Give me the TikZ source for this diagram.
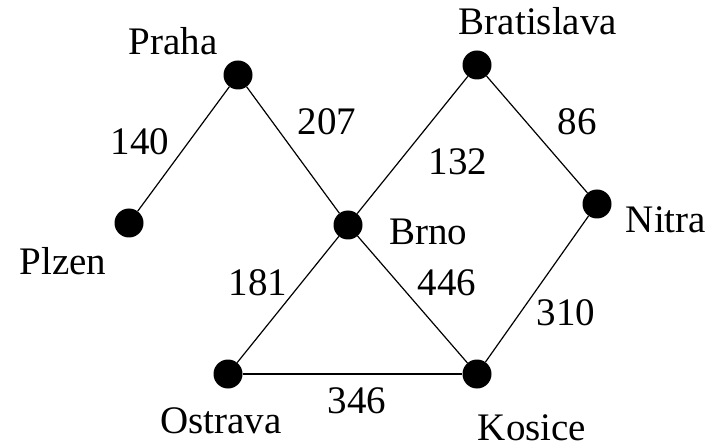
\documentclass[tikz,border=0pt]{standalone}
\usepackage{fontspec}
\setmainfont{Liberation Serif}
\begin{document}
\begin{tikzpicture}[x=1pt,y=-1pt,
  dot/.style={circle,fill=black,inner sep=0pt,minimum size=29pt},
  lbl/.style={anchor=base,inner sep=0pt,font=\fontsize{39}{39}\selectfont},
  edge/.style={line width=1.2pt}]
\useasboundingbox (0,0) rectangle (717,446);
\node[dot] (praha) at (238,75) {};
\node[dot] (brat) at (477,65) {};
\node[dot] (plzen) at (129,223) {};
\node[dot] (brno) at (348,225) {};
\node[dot] (nitra) at (597,204) {};
\node[dot] (ostrava) at (228,374) {};
\node[dot] (kosice) at (477,374) {};
\draw[edge] (praha) -- (plzen);
\draw[edge] (praha) -- (brno);
\draw[edge] (brat) -- (brno);
\draw[edge] (brat) -- (nitra);
\draw[edge] (brno) -- (ostrava);
\draw[edge] (brno) -- (kosice);
\draw[edge] (nitra) -- (kosice);
\draw[edge] (ostrava) -- (kosice);
\node[lbl] (tpraha) at (173,55) {Praha};
\node[lbl] (tbrat) at (538,35) {Bratislava};
\node[lbl] (tplzen) at (63,275) {Plzen};
\node[lbl] (tbrno) at (428,245) {Brno};
\node[lbl] (tnitra) at (666,233) {Nitra};
\node[lbl] (tostrava) at (221,433) {Ostrava};
\node[lbl] (tkosice) at (532,440) {Kosice};
\node[lbl] (d140) at (140,155) {140};
\node[lbl] (d207) at (327,135) {207};
\node[lbl] (d132) at (458,175) {132};
\node[lbl] (d86) at (577,135) {86};
\node[lbl] (d181) at (258,295) {181};
\node[lbl] (d446) at (447,295) {446};
\node[lbl] (d310) at (566,325) {310};
\node[lbl] (d346) at (357,413) {346};
\end{tikzpicture}
\end{document}
